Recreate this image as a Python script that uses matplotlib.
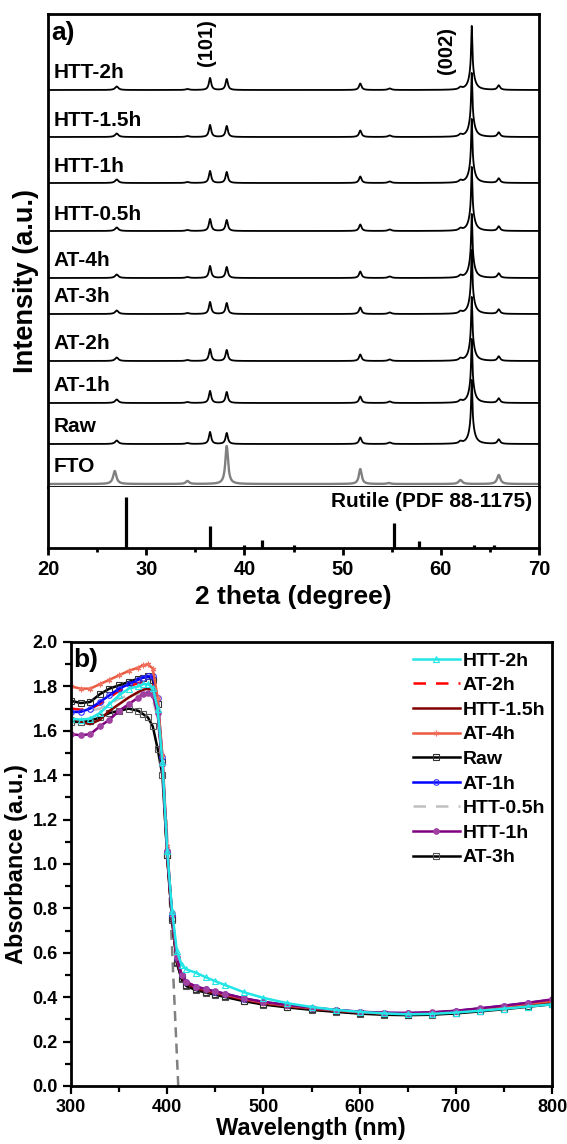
import numpy as np
import matplotlib
matplotlib.use('Agg')
import matplotlib.pyplot as plt
from matplotlib.ticker import MultipleLocator

plt.rcParams['font.family'] = ['Liberation Sans', 'DejaVu Sans']
plt.rcParams['font.weight'] = 'bold'
plt.rcParams['axes.labelweight'] = 'bold'

# ---------------- Panel a: XRD ----------------
sample_names = ['HTT-2h', 'HTT-1.5h', 'HTT-1h', 'HTT-0.5h', 'AT-4h', 'AT-3h', 'AT-2h', 'AT-1h', 'Raw']
sample_offsets = [397, 350, 304, 256, 209, 173, 126, 84, 43]
sample_peak_pos = [27.0, 34.2, 36.5, 38.2, 51.8, 54.8, 62.0, 63.15, 63.15, 65.9]
sample_peak_height = [3.5, 1.0, 12, 11, 6.5, 1.5, 2, 44, 20, 4.5]
sample_peak_width = [0.2, 0.2, 0.14, 0.14, 0.15, 0.2, 0.18, 0.07, 0.3, 0.16]
fto_name = 'FTO'
fto_offset = 3
fto_peak_pos = [26.8, 34.2, 38.2, 51.8, 54.7, 62.0, 65.9]
fto_peak_height = [13, 3, 38, 15, 1, 4, 9]
fto_peak_width = [0.2, 0.2, 0.17, 0.17, 0.2, 0.22, 0.2]
rutile_pos = [27.9, 36.5, 40.0, 41.8, 45.0, 55.2, 57.8, 63.4, 65.4]
rutile_int = [51, 22, 3, 8, 2.5, 25, 7, 3, 2.5]

# ---------------- Panel b: UV-vis ----------------
wavelength = [300, 310, 320, 330, 340, 350, 360, 370, 375, 380, 385, 390, 395, 400, 405, 410, 415, 420,
              430, 440, 450, 460, 480, 500, 525, 550, 575, 600, 625, 650, 675, 700, 725, 750, 775, 800]
abs_htt2h = [1.655, 1.650, 1.655, 1.680, 1.720, 1.760, 1.790, 1.800, 1.810, 1.810, 1.795, 1.700, 1.460, 1.060, 0.790, 0.610, 0.545, 0.525,
             0.510, 0.490, 0.472, 0.455, 0.422, 0.397, 0.373, 0.356, 0.343, 0.334, 0.327, 0.323, 0.325, 0.331, 0.339, 0.348, 0.358, 0.368]
abs_at2h = [1.700, 1.695, 1.700, 1.720, 1.750, 1.780, 1.800, 1.815, 1.820, 1.825, 1.810, 1.710, 1.460, 1.040, 0.760, 0.570, 0.495, 0.465,
            0.445, 0.432, 0.421, 0.411, 0.390, 0.374, 0.360, 0.349, 0.340, 0.332, 0.327, 0.326, 0.329, 0.336, 0.346, 0.357, 0.368, 0.380]
abs_htt15h = [1.660, 1.640, 1.630, 1.650, 1.690, 1.720, 1.750, 1.775, 1.785, 1.790, 1.780, 1.690, 1.440, 1.030, 0.755, 0.565, 0.490, 0.460,
              0.440, 0.428, 0.418, 0.408, 0.388, 0.372, 0.359, 0.348, 0.339, 0.331, 0.326, 0.325, 0.328, 0.335, 0.345, 0.356, 0.367, 0.379]
abs_at4h = [1.800, 1.790, 1.790, 1.810, 1.830, 1.850, 1.870, 1.885, 1.895, 1.900, 1.880, 1.750, 1.490, 1.080, 0.770, 0.575, 0.500, 0.468,
            0.447, 0.434, 0.423, 0.413, 0.392, 0.376, 0.362, 0.351, 0.341, 0.333, 0.328, 0.327, 0.330, 0.337, 0.347, 0.358, 0.370, 0.383]
abs_raw = [1.735, 1.725, 1.730, 1.765, 1.790, 1.805, 1.820, 1.835, 1.840, 1.845, 1.830, 1.720, 1.460, 1.040, 0.755, 0.560, 0.485, 0.455,
           0.437, 0.425, 0.415, 0.405, 0.385, 0.370, 0.357, 0.346, 0.337, 0.329, 0.324, 0.322, 0.324, 0.330, 0.339, 0.349, 0.359, 0.370]
abs_at1h = [1.685, 1.685, 1.700, 1.730, 1.760, 1.790, 1.810, 1.830, 1.840, 1.845, 1.845, 1.750, 1.480, 1.060, 0.770, 0.575, 0.498, 0.467,
            0.447, 0.435, 0.425, 0.415, 0.394, 0.378, 0.364, 0.352, 0.342, 0.334, 0.329, 0.328, 0.331, 0.338, 0.349, 0.361, 0.374, 0.388]
abs_htt05h = [1.700, 1.695, 1.690, 1.700, 1.720, 1.745, 1.760, 1.765, 1.765, 1.760, 1.740, 1.660, 1.430, 1.030, 0.760, 0.570, 0.495, 0.465,
              0.445, 0.432, 0.421, 0.411, 0.390, 0.374, 0.360, 0.349, 0.340, 0.332, 0.327, 0.326, 0.329, 0.336, 0.346, 0.357, 0.368, 0.380]
abs_htt1h = [1.585, 1.580, 1.585, 1.620, 1.650, 1.690, 1.720, 1.750, 1.765, 1.770, 1.760, 1.680, 1.450, 1.060, 0.780, 0.580, 0.500, 0.468,
             0.448, 0.436, 0.426, 0.416, 0.395, 0.379, 0.365, 0.353, 0.343, 0.335, 0.330, 0.329, 0.332, 0.339, 0.350, 0.362, 0.375, 0.390]
abs_at3h = [1.640, 1.640, 1.645, 1.660, 1.680, 1.690, 1.700, 1.690, 1.675, 1.660, 1.620, 1.520, 1.400, 1.040, 0.750, 0.555, 0.480, 0.450,
            0.432, 0.421, 0.411, 0.401, 0.382, 0.367, 0.354, 0.343, 0.334, 0.326, 0.321, 0.319, 0.321, 0.327, 0.336, 0.346, 0.357, 0.368]
edge_line_x = [411.5, 399.0]
edge_line_y = [0.0, 1.2]

legend_order = ['HTT-2h', 'AT-2h', 'HTT-1.5h', 'AT-4h', 'Raw', 'AT-1h', 'HTT-0.5h', 'HTT-1h', 'AT-3h']
series = {
    'HTT-2h': abs_htt2h, 'AT-2h': abs_at2h, 'HTT-1.5h': abs_htt15h, 'AT-4h': abs_at4h, 'Raw': abs_raw,
    'AT-1h': abs_at1h, 'HTT-0.5h': abs_htt05h, 'HTT-1h': abs_htt1h, 'AT-3h': abs_at3h,
}
styles = {
    'HTT-2h': dict(color='#22E6E6', ls='-', marker='^', mec='#22E6E6'),
    'AT-2h': dict(color='#FF0000', ls=(0, (5, 4)), marker=None, mec='#FF0000'),
    'HTT-1.5h': dict(color='#800000', ls='-', marker=None, mec='#800000'),
    'AT-4h': dict(color='#EA5A3E', ls='-', marker=(6, 2, 0), mec='#F07060'),
    'Raw': dict(color='#000000', ls='-', marker='s', mec='#333333'),
    'AT-1h': dict(color='#0000FF', ls='-', marker='o', mec='#3030FF'),
    'HTT-0.5h': dict(color='#C0C0C0', ls=(0, (5, 4)), marker=None, mec='#C0C0C0'),
    'HTT-1h': dict(color='#800080', ls='-', marker=r'$\oplus$', mec='#A040A0'),
    'AT-3h': dict(color='#000000', ls='-', marker='s', mec='#555555'),
}
plot_order = ['AT-3h', 'HTT-0.5h', 'Raw', 'AT-2h', 'HTT-1.5h', 'AT-1h', 'AT-4h', 'HTT-1h', 'HTT-2h']

W, H = 567, 1144
fig = plt.figure(figsize=(W / 100, H / 100), dpi=100)

def fax(l, t, r, b):
    return fig.add_axes([l / W, 1 - b / H, (r - l) / W, (b - t) / H])

# ---- panel a main ----
ax1 = fax(48, 14, 539, 487)
ax2 = fax(48, 487, 539, 548)
x = np.linspace(20, 70, 3001)

def profile(pos, hts, wid):
    y = np.zeros_like(x)
    for p, h, g in zip(pos, hts, wid):
        y += h / (1 + ((x - p) / g) ** 2)
    return y

for name, off in zip(sample_names, sample_offsets):
    ax1.plot(x, off + profile(sample_peak_pos, sample_peak_height, sample_peak_width),
             color='black', lw=1.3, zorder=3)
    ax1.text(20.6, off + 17, name, fontsize=15, fontweight='bold', ha='left', va='center', zorder=5)
ax1.plot(x, fto_offset + profile(fto_peak_pos, fto_peak_height, fto_peak_width), color='#808080', lw=1.7, zorder=2)
ax1.text(20.6, fto_offset + 17, fto_name, fontsize=15, fontweight='bold', ha='left', va='center')
ax1.set_xlim(20, 70)
ax1.set_ylim(0, 473)
ax1.set_xticks([])
ax1.set_yticks([])
for s in ax1.spines.values():
    s.set_linewidth(2)
ax1.text(20.3, 454, 'a)', fontsize=19, fontweight='bold', ha='left', va='center')
ax1.text(36.1, 444, '(101)', fontsize=14.5, fontweight='bold', rotation=90, ha='center', va='center')
ax1.text(60.6, 437, '(002)', fontsize=14.5, fontweight='bold', rotation=90, ha='center', va='center')

ax2.vlines(rutile_pos, 0, rutile_int, color='black', lw=2.3)
ax2.set_xlim(20, 70)
ax2.set_ylim(0, 61)
ax2.set_yticks([])
ax2.spines['top'].set_visible(False)
for k in ['left', 'right', 'bottom']:
    ax2.spines[k].set_linewidth(2)
ax2.xaxis.set_major_locator(MultipleLocator(10))
ax2.xaxis.set_minor_locator(MultipleLocator(5))
ax2.tick_params(axis='x', which='major', direction='out', length=5, width=2, labelsize=14.5, pad=4)
ax2.tick_params(axis='x', which='minor', direction='out', length=3, width=2)
for lab in ax2.get_xticklabels():
    lab.set_fontweight('bold')
ax2.text(69.3, 46, 'Rutile (PDF 88-1175)', fontsize=15, fontweight='bold', ha='right', va='center')
fig.text(293.5 / W, 1 - 597 / H, '2 theta (degree)', fontsize=19, fontweight='bold', ha='center', va='center')
fig.text(26 / W, 1 - 281 / H, 'Intensity (a.u.)', fontsize=19.5, fontweight='bold', rotation=90, ha='center', va='center')

# ---- panel b ----
ax3 = fax(71, 642, 552, 1086)
lines = {}
for name in plot_order:
    st = styles[name]
    ln, = ax3.plot(wavelength, series[name], color=st['color'], ls=st['ls'], lw=1.8,
                   marker=st['marker'], ms=4, mfc='none', mec=st['mec'], mew=0.8, label=name)
    lines[name] = ln
ax3.plot(edge_line_x, edge_line_y, color='#808080', ls=(0, (4, 2.5)), lw=1.8, zorder=1)
ax3.set_xlim(300, 800)
ax3.set_ylim(0, 2.0)
ax3.xaxis.set_major_locator(MultipleLocator(100))
ax3.xaxis.set_minor_locator(MultipleLocator(50))
ax3.yaxis.set_major_locator(MultipleLocator(0.2))
ax3.yaxis.set_minor_locator(MultipleLocator(0.1))
ax3.yaxis.set_major_formatter(matplotlib.ticker.FormatStrFormatter('%.1f'))
ax3.tick_params(which='major', direction='out', length=6, width=1.6, labelsize=13)
ax3.tick_params(which='minor', direction='out', length=4, width=1.6)
for s in ax3.spines.values():
    s.set_linewidth(2)
for lab in ax3.get_xticklabels() + ax3.get_yticklabels():
    lab.set_fontweight('bold')
ax3.text(302, 1.92, 'b)', fontsize=19, fontweight='bold', ha='left', va='center')
fig.text(311 / W, 1 - 1128 / H, 'Wavelength (nm)', fontsize=17, fontweight='bold', ha='center', va='center')
fig.text(17 / W, 1 - 864 / H, 'Absorbance (a.u.)', fontsize=17, fontweight='bold', rotation=90, ha='center', va='center')

leg = ax3.legend([lines[n] for n in legend_order], legend_order, loc='upper left',
                 bbox_to_anchor=(413 / W, 1 - 652 / H), bbox_transform=fig.transFigure,
                 frameon=False, handlelength=2.4, handletextpad=0.15,
                 labelspacing=0.36, borderpad=0, borderaxespad=0, numpoints=1,
                 prop={'weight': 'bold', 'size': 14})

fig.savefig('out.png', dpi=100)
